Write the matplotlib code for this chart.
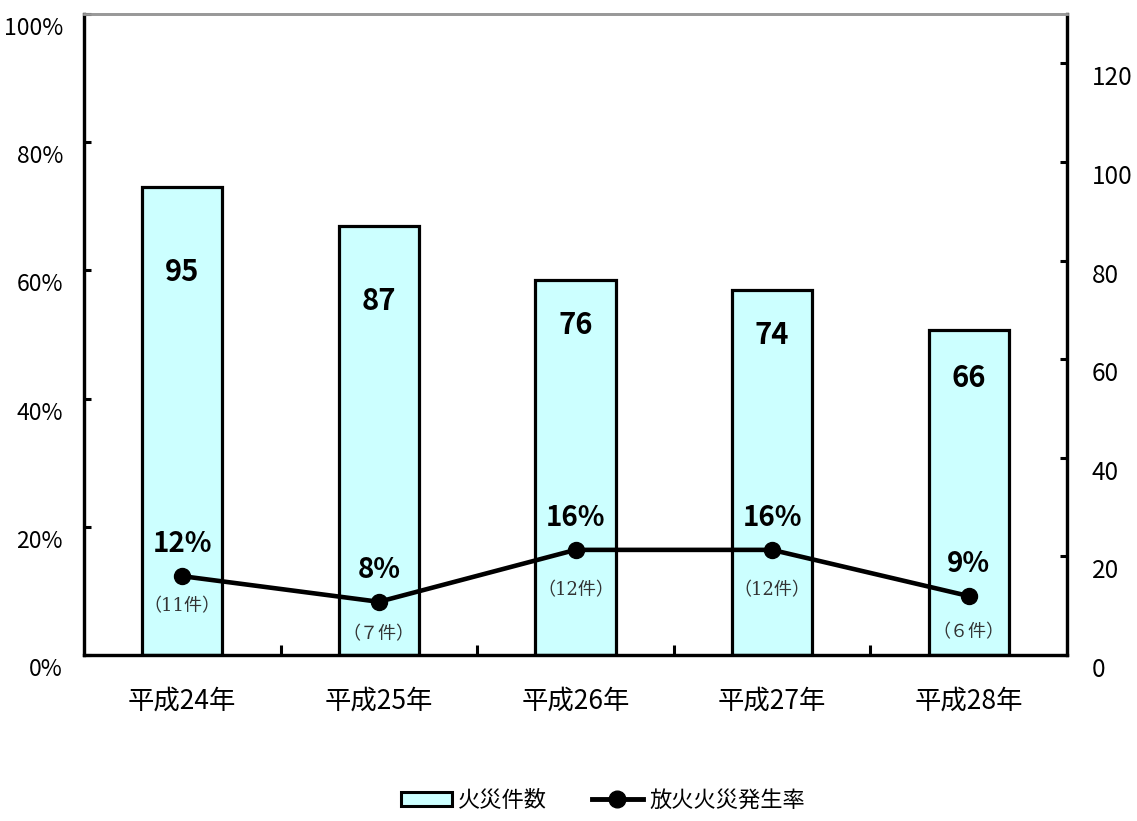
import matplotlib
matplotlib.use("Agg")
import matplotlib.pyplot as plt
from matplotlib.lines import Line2D
from matplotlib.patches import Patch
from matplotlib.transforms import ScaledTranslation
import numpy as np

plt.rcParams['font.family'] = ['Noto Sans CJK JP', 'DejaVu Sans']

categories = ['平成24年', '平成25年', '平成26年', '平成27年', '平成28年']
fire_counts = [95, 87, 76, 74, 66]
arson_rate = [12.3, 8.3, 16.4, 16.4, 9.2]
rate_labels = ['12%', '8%', '16%', '16%', '9%']
count_labels = ['（11件）', '（７件）', '（12件）', '（12件）', '（６件）']
left_ticks = [0, 20, 40, 60, 80, 100]
left_tick_labels = ['0%', '20%', '40%', '60%', '80%', '100%']
right_ticks = [0, 20, 40, 60, 80, 100, 120]

# label placement (styling, pixels)
bar_label_drop_px = [85, 75, 45, 45, 48]
count_label_drop_px = [30, 32, 40, 40, 36]

PX = 0.72  # points per pixel at dpi 100

fig = plt.figure(figsize=(11.37, 8.21), dpi=100)
L, R, B, T = 84/1137, 1067/1137, 1-655/821, 1-14/821
ax1 = fig.add_axes([L, B, R-L, T-B])   # bars (right axis)
ax2 = ax1.twinx()                      # line (left axis)

x = np.arange(len(categories))
bar_color = '#CCFFFF'
ax1.bar(x, fire_counts, width=0.407, color=bar_color, edgecolor='black', linewidth=2.3, zorder=2)
ax1.set_ylim(0, 130)
ax1.set_xlim(-0.5, len(categories)-0.5)
ax1.yaxis.tick_right()
ax1.yaxis.set_label_position('right')
ax1.set_yticks(right_ticks)
ax1.set_yticklabels([str(v) for v in right_ticks], fontsize=17.5)
ax1.tick_params(axis='y', direction='in', length=7*PX, width=2.2, pad=25*PX)

for i, v in enumerate(fire_counts):
    ax1.annotate(str(v), (x[i], v), xytext=(0, -bar_label_drop_px[i]*PX), textcoords='offset points',
                 ha='center', va='center', fontsize=21, fontweight='bold', zorder=5)

ax2.plot(x, arson_rate, color='black', linewidth=3.3, marker='o', markersize=11.5, zorder=4)
ax2.set_ylim(0, 100)
ax2.yaxis.tick_left()
ax2.yaxis.set_label_position('left')
ax2.set_yticks(left_ticks)
ax2.set_yticklabels(left_tick_labels, fontsize=16.5)
ax2.tick_params(axis='y', direction='in', length=7*PX, width=2.2, pad=21*PX)

for i, v in enumerate(arson_rate):
    ax2.annotate(rate_labels[i], (x[i], v), xytext=(0, 32*PX), textcoords='offset points',
                 ha='center', va='center', fontsize=20, fontweight='bold')
    ax2.annotate(count_labels[i], (x[i], v), xytext=(0, -count_label_drop_px[i]*PX),
                 textcoords='offset points', ha='center', va='center', fontsize=13,
                 color='#333333', family=['DejaVu Serif', 'Noto Sans CJK JP'])

# x axis
ax1.set_xticks(x)
ax1.set_xticklabels(categories, fontsize=19)
ax1.tick_params(axis='x', which='major', length=0, pad=33*PX)
ax1.set_xticks(np.arange(0.5, len(categories)-1, 1.0), minor=True)
ax1.tick_params(axis='x', which='minor', direction='in', length=10*PX, width=2.2)
ax2.tick_params(axis='x', length=0)

# shift y tick labels downward
offset = ScaledTranslation(0, -12/100, fig.dpi_scale_trans)
for lab in ax1.get_yticklabels() + ax2.get_yticklabels():
    lab.set_transform(lab.get_transform() + offset)

for ax in (ax1, ax2):
    for s in ['left', 'right', 'bottom']:
        ax.spines[s].set_linewidth(2.3)
        ax.spines[s].set_color('black')
    ax.spines['top'].set_color('#999999')
    ax.spines['top'].set_linewidth(2.0)

handles = [Patch(facecolor=bar_color, edgecolor='black', linewidth=2.2),
           Line2D([0], [0], color='black', linewidth=3.5, marker='o', markersize=12)]
fig.legend(handles, ['火災件数', '放火火災発生率'], loc='center',
           bbox_to_anchor=(603/1137, 1-800/821), ncol=2, frameon=False,
           prop={'size': 16}, handlelength=2.3, handleheight=0.6,
           handletextpad=0.3, columnspacing=2.0)

fig.savefig('out.png', dpi=100)
